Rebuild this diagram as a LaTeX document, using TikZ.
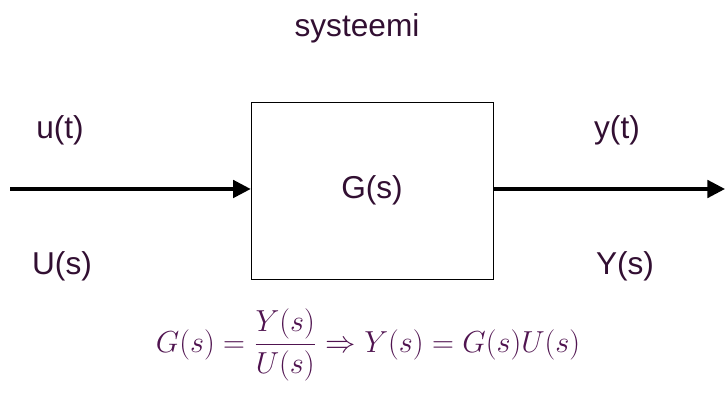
\documentclass[tikz,border=0pt]{standalone}
\usepackage{amsmath}
\usepackage{fontspec}
\setmainfont{Liberation Sans}
\usetikzlibrary{arrows.meta}
\definecolor{inkpurple}{RGB}{50,15,50}
\definecolor{mathpurple}{RGB}{80,20,80}
\begin{document}
\begin{tikzpicture}[x=0.02cm,y=-0.02cm]
\useasboundingbox (0,0) rectangle (725,394);
\tikzset{lbl/.style={font=\fontsize{18}{20}\selectfont,text=inkpurple},
  sig/.style={line width=1.8pt,-{Triangle[length=10pt,width=10pt]}}}
\node[draw,thin,minimum width=4.84cm,minimum height=3.54cm,lbl] (box) at (372,190.5) {G(s)};
\node[lbl] (sys) at (357,28) {systeemi};
\node[lbl] (ut) at (60,130) {u(t)};
\node[lbl] (Us) at (62,266) {U(s)};
\node[lbl] (yt) at (617,130) {y(t)};
\node[lbl] (Ys) at (625,266) {Y(s)};
\coordinate (in) at (10,189);
\coordinate (out) at (725,189);
\draw[sig] (in) -- (box.west |- in);
\draw[sig] (box.east |- out) -- (out);
\node[text=mathpurple,font=\fontsize{17}{20}\selectfont] (eq) at (368,345)
  {$G(s)=\dfrac{Y(s)}{U(s)}\Rightarrow Y(s)=G(s)U(s)$};
\end{tikzpicture}
\end{document}
